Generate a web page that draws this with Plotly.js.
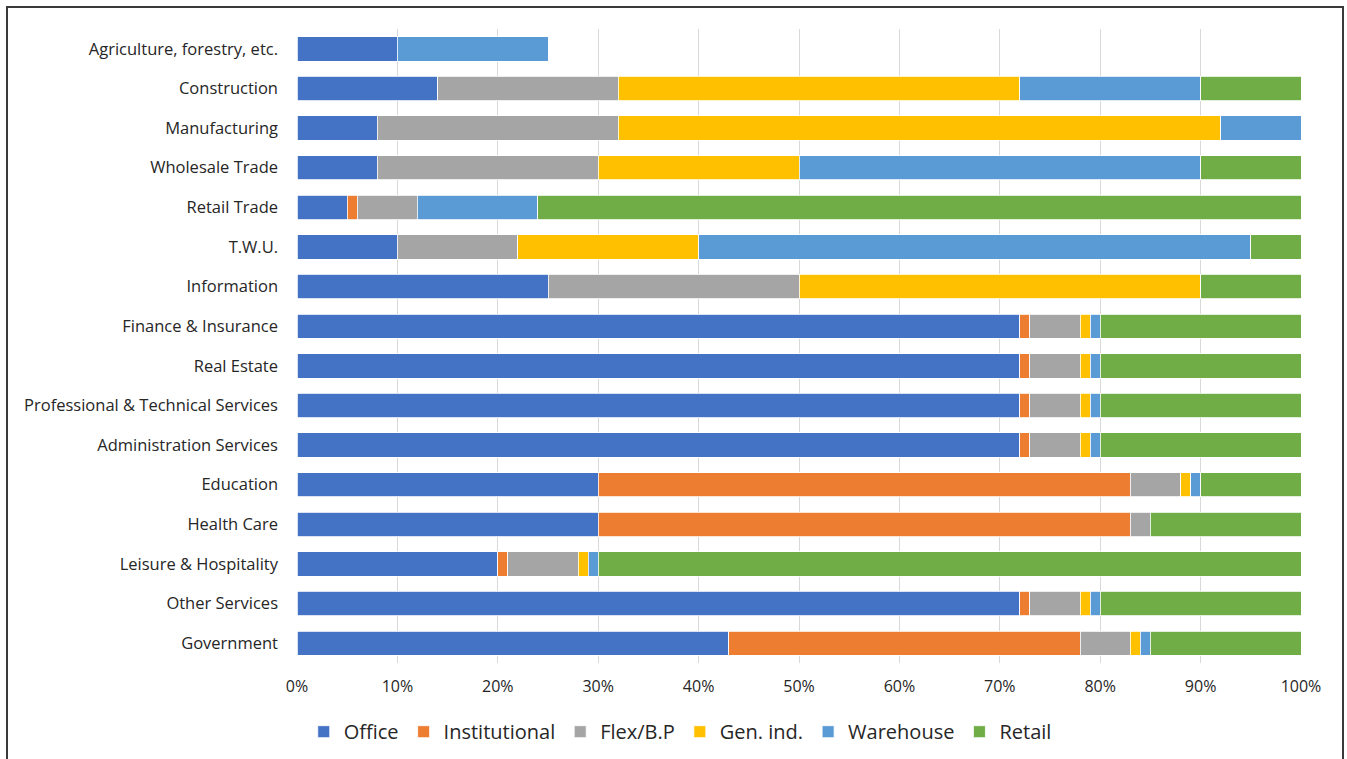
<!DOCTYPE html>
<html>
<head>
<meta charset="utf-8">
<script src="https://cdn.plot.ly/plotly-3.0.1.min.js"></script>
<style>
html,body{margin:0;padding:0;background:#fff;}
#chart{width:1347px;height:759px;}
</style>
</head>
<body>
<div id="chart"></div>
<script>
const categories = ["Agriculture, forestry, etc.","Construction","Manufacturing","Wholesale Trade","Retail Trade","T.W.U.","Information","Finance & Insurance","Real Estate","Professional & Technical Services","Administration Services","Education","Health Care","Leisure & Hospitality","Other Services","Government"];
const office        = [10,14, 8, 8, 5,10,25,72,72,72,72,30,30,20,72,43];
const institutional = [ 0, 0, 0, 0, 1, 0, 0, 1, 1, 1, 1,53,53, 1, 1,35];
const flex          = [ 0,18,24,22, 6,12,25, 5, 5, 5, 5, 5, 2, 7, 5, 5];
const genInd        = [ 0,40,60,20, 0,18,40, 1, 1, 1, 1, 1, 0, 1, 1, 1];
const warehouse     = [15,18, 8,40,12,55, 0, 1, 1, 1, 1, 1, 0, 1, 1, 1];
const retail        = [ 0,10, 0,10,76, 5,10,20,20,20,20,10,15,70,20,15];
const seriesNames = ["Office","Institutional","Flex/B.P","Gen. ind.","Warehouse","Retail"];
const seriesColors = ["#4472C4","#ED7D31","#A5A5A5","#FFC000","#5B9BD5","#70AD47"];
const seriesValues = [office, institutional, flex, genInd, warehouse, retail];
const xTickVals = [0,10,20,30,40,50,60,70,80,90,100];
const xTickLabels = ["0%","10%","20%","30%","40%","50%","60%","70%","80%","90%","100%"];

const traces = seriesValues.map((vals, i) => ({
  type: 'bar',
  orientation: 'h',
  name: seriesNames[i],
  y: categories,
  x: vals,
  marker: {color: seriesColors[i], line: {color: '#ffffff', width: 0.8}},
  hoverinfo: 'skip'
}));

const layout = {
  width: 1347,
  height: 759,
  barmode: 'stack',
  bargap: 0.385,
  font: {family: '"Open Sans", Lato, sans-serif', color: '#262626', size: 16},
  margin: {l: 297, r: 46, t: 29, b: 96, pad: 0},
  paper_bgcolor: '#ffffff',
  plot_bgcolor: '#ffffff',
  xaxis: {
    range: [0, 100],
    tickmode: 'array',
    tickvals: xTickVals,
    ticktext: xTickLabels,
    showgrid: true,
    gridcolor: '#D9D9D9',
    gridwidth: 1,
    zeroline: false,
    showline: false,
    ticks: '',
    ticklabelstandoff: 12,
    tickfont: {size: 16, color: '#262626'},
    fixedrange: true
  },
  yaxis: {
    type: 'category',
    autorange: 'reversed',
    showgrid: false,
    zeroline: false,
    showline: false,
    ticks: '',
    ticklabelstandoff: 18,
    tickfont: {size: 16.5, color: '#262626'},
    fixedrange: true
  },
  showlegend: true,
  legend: {
    orientation: 'h',
    xref: 'container',
    yref: 'container',
    x: 0.505,
    xanchor: 'center',
    y: 0.036,
    yanchor: 'middle',
    font: {size: 20, color: '#262626'},
    traceorder: 'normal',
    itemwidth: 30
  },
  shapes: [{
    type: 'rect',
    xref: 'paper', yref: 'paper',
    x0: (7 - 297) / 1004, x1: (1343 - 297) / 1004,
    y0: (663 - 775) / 634, y1: (663 - 7) / 634,
    line: {color: '#3a3a3a', width: 2},
    fillcolor: 'rgba(0,0,0,0)',
    layer: 'above'
  }]
};

Plotly.newPlot('chart', traces, layout, {staticPlot: true, displayModeBar: false});
</script>
</body>
</html>
